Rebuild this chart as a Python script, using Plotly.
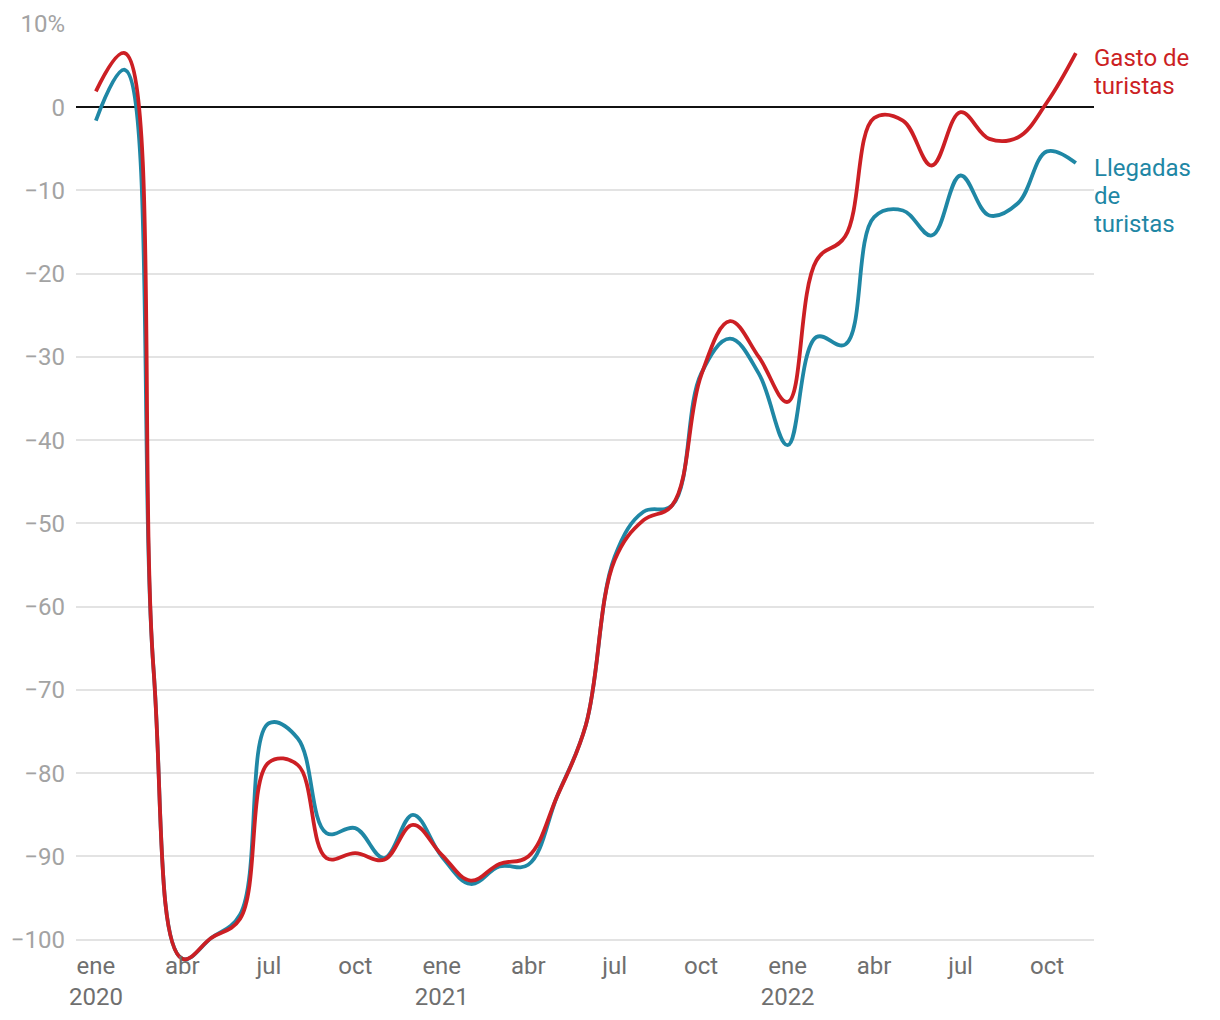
import plotly.graph_objects as go

months = list(range(35))  # ene 2020 .. nov 2022

gasto = [1.9, 6.5, -67.5, -102.3, -99.8, -97.5, -78.7, -79.0, -90.2, -89.6, -90.4, -86.2,
         -89.8, -92.9, -90.9, -90.0, -82.8, -74.2, -54.4, -49.6, -47.8, -32.2, -25.7, -30.0,
         -35.4, -18.4, -15.5, -1.3, -1.6, -7.0, -0.6, -3.8, -3.6, 0.6, 6.5]

llegadas = [-1.6, 4.5, -67.5, -102.3, -99.8, -97.0, -74.0, -75.8, -87.2, -86.6, -90.2, -85.0,
            -90.0, -93.3, -91.2, -91.0, -82.8, -74.2, -54.0, -48.6, -47.8, -32.0, -27.8, -32.0,
            -40.6, -27.6, -28.5, -13.2, -12.4, -15.4, -8.2, -13.0, -11.5, -5.3, -6.7]

x_tickvals = [0, 3, 6, 9, 12, 15, 18, 21, 24, 27, 30, 33]
x_ticktext = ["ene<br>2020", "abr", "jul", "oct", "ene<br>2021", "abr", "jul", "oct",
              "ene<br>2022", "abr", "jul", "oct"]

y_tickvals = [10, 0, -10, -20, -30, -40, -50, -60, -70, -80, -90, -100]
y_ticktext = ["10%", "0", "−10", "−20", "−30", "−40", "−50", "−60", "−70", "−80", "−90", "−100"]

label_gasto = ["Gasto de", "turistas"]
label_llegadas = ["Llegadas", "de", "turistas"]

RED = "#cc1f24"
BLUE = "#1f87a5"
FONT = "Roboto"
FS = 24

fig = go.Figure()
fig.add_trace(go.Scatter(x=months, y=llegadas, mode="lines",
                         line=dict(color=BLUE, width=3.8, shape="spline", smoothing=1.1),
                         hoverinfo="skip", showlegend=False))
fig.add_trace(go.Scatter(x=months, y=gasto, mode="lines",
                         line=dict(color=RED, width=3.8, shape="spline", smoothing=1.1),
                         hoverinfo="skip", showlegend=False))

# direct labels, one annotation per text line (line pitch 28 px, 8.327 px per unit)
PX = 8.327
def add_label(lines, top_center_px, color):
    for i, t in enumerate(lines):
        py = top_center_px + 28 * i
        fig.add_annotation(x=1, y=(107 - py) / PX, xref="paper", yref="y", text=t,
                           showarrow=False, xanchor="left", yanchor="middle", align="left",
                           xshift=-2, font=dict(family=FONT, size=FS, color=color))

add_label(label_gasto, 58, RED)
add_label(label_llegadas, 168, BLUE)

fig.update_layout(
    width=1220, height=1020,
    margin=dict(l=76, r=126, t=24, b=47, autoexpand=False),
    paper_bgcolor="white", plot_bgcolor="white",
    font=dict(family=FONT, size=FS),
)
fig.update_xaxes(
    range=[-0.69, 34.63], tickvals=x_tickvals, ticktext=x_ticktext,
    showgrid=False, zeroline=False, showline=False, ticks="",
    tickfont=dict(family=FONT, size=FS, color="#6f6f6f"),
    ticklabelstandoff=-24,
)
fig.update_yaxes(
    range=[-104, 10], tickvals=y_tickvals, ticktext=y_ticktext,
    showgrid=True, gridcolor="#e3e3e3", gridwidth=2,
    zeroline=True, zerolinecolor="#111111", zerolinewidth=2,
    showline=False, ticks="",
    tickfont=dict(family=FONT, size=FS, color="#a3a3a3"),
    ticklabelstandoff=10,
)

fig.write_html("out.html")
